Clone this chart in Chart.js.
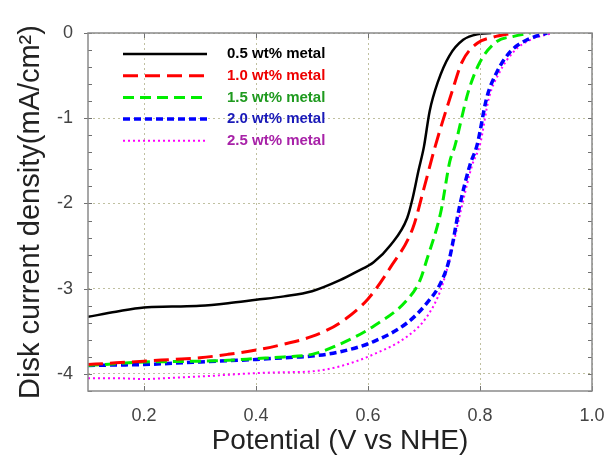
<!DOCTYPE html>
<html>
<head>
<meta charset="utf-8">
<script src="https://cdn.jsdelivr.net/npm/chart.js@4/dist/chart.umd.min.js"></script>
<style>
  html, body { margin:0; padding:0; background:#fff; }
  #wrap { width:608px; height:456px; position:relative; }
</style>
</head>
<body>
<div id="wrap"><canvas id="chart"></canvas></div>
<script>
// Series labels
const seriesNames = ['0.5 wt% metal','1.0 wt% metal','1.5 wt% metal','2.0 wt% metal','2.5 wt% metal'];

// Potential (V) / current density (mA/cm2)
const x05 = [0.10,0.15,0.20,0.25,0.30,0.35,0.40,0.45,0.50,0.55,0.58,0.61,0.64,0.67,0.68,0.69,0.70,0.71,0.725,0.745,0.77,0.80,0.82];
const y05 = [-3.33,-3.27,-3.22,-3.21,-3.20,-3.17,-3.13,-3.09,-3.03,-2.90,-2.80,-2.69,-2.49,-2.17,-1.93,-1.62,-1.33,-0.92,-0.57,-0.27,-0.08,-0.01,0];

const x10 = [0.10,0.15,0.20,0.25,0.30,0.35,0.40,0.45,0.50,0.55,0.60,0.64,0.68,0.70,0.72,0.75,0.768,0.795,0.823,0.86];
const y10 = [-3.89,-3.87,-3.85,-3.83,-3.81,-3.77,-3.72,-3.65,-3.56,-3.40,-3.12,-2.75,-2.29,-1.82,-1.33,-0.69,-0.34,-0.12,-0.05,0];

const x15 = [0.10,0.15,0.20,0.25,0.30,0.35,0.40,0.45,0.50,0.55,0.61,0.67,0.693,0.705,0.73,0.746,0.755,0.779,0.80,0.83,0.86,0.89];
const y15 = [-3.90,-3.88,-3.86,-3.855,-3.85,-3.84,-3.82,-3.80,-3.77,-3.65,-3.44,-3.13,-2.90,-2.66,-2.10,-1.51,-1.33,-0.69,-0.34,-0.10,-0.04,0];

const x20 = [0.10,0.15,0.20,0.25,0.30,0.35,0.40,0.45,0.50,0.55,0.61,0.67,0.705,0.73,0.745,0.764,0.782,0.795,0.812,0.83,0.854,0.884,0.92];
const y20 = [-3.90,-3.895,-3.89,-3.875,-3.86,-3.845,-3.83,-3.81,-3.79,-3.74,-3.62,-3.40,-3.17,-2.93,-2.66,-2.02,-1.55,-1.31,-0.76,-0.46,-0.22,-0.08,0];

const x25 = [0.10,0.15,0.20,0.25,0.30,0.35,0.40,0.45,0.50,0.55,0.61,0.67,0.705,0.73,0.748,0.768,0.786,0.80,0.816,0.835,0.86,0.89,0.93];
const y25 = [-4.05,-4.05,-4.06,-4.045,-4.03,-4.01,-3.99,-3.98,-3.97,-3.91,-3.77,-3.56,-3.33,-3.01,-2.60,-2.02,-1.55,-1.31,-0.76,-0.46,-0.22,-0.08,0];

// Axis ticks
const xTicks = [0.2,0.4,0.6,0.8,1.0];
const yTicks = [0,-1,-2,-3,-4];

const lineColors = ['#000000','#ff0000','#00ee00','#0000ff','#ff00ff'];
const textColors = ['#000000','#ee0000','#1f9a1f','#1a1ab8','#a822a8'];
const dashes = [[],[15,7],[11,6],[7,4],[2,3]];
const widths = [2.5,3,3,3.5,2];

const xs = [x05,x10,x15,x20,x25];
const ys = [y05,y10,y15,y20,y25];

const datasets = seriesNames.map((name,i)=>({
  label:name,
  data: xs[i].map((x,j)=>({x:x, y:ys[i][j]})),
  borderColor:lineColors[i],
  borderWidth:widths[i],
  borderDash:dashes[i],
  pointRadius:0,
  fill:false,
  cubicInterpolationMode:'monotone'
}));

// frame, inner ticks and legend
const framePlugin = {
  id:'frame',
  afterDatasetsDraw(chart){
    const {ctx, chartArea:a, scales} = chart;
    ctx.save();
    // minor ticks on y (every 0.2), inward both sides
    ctx.strokeStyle = '#707070';
    ctx.lineWidth = 1;
    ctx.beginPath();
    for(let k=0;k<=21;k++){
      const py = Math.round(scales.y.getPixelForValue(-k*0.2))+0.5;
      ctx.moveTo(a.left,py); ctx.lineTo(a.left+4,py);
      ctx.moveTo(a.right,py); ctx.lineTo(a.right-4,py);
    }
    yTicks.forEach(v=>{
      const py = Math.round(scales.y.getPixelForValue(v))+0.5;
      ctx.moveTo(a.left-4,py); ctx.lineTo(a.left,py);
    });
    xTicks.forEach(v=>{
      const px = Math.round(scales.x.getPixelForValue(v))+0.5;
      ctx.moveTo(px,a.bottom); ctx.lineTo(px,a.bottom-5);
      ctx.moveTo(px,a.top); ctx.lineTo(px,a.top+5);
    });
    ctx.stroke();
    ctx.strokeStyle = '#8a8a8a';
    ctx.lineWidth = 1.5;
    ctx.strokeRect(a.left, a.top, a.right-a.left, a.bottom-a.top);

    // legend
    ctx.font = 'bold 15px "Liberation Sans", Arial, sans-serif';
    ctx.textBaseline = 'middle';
    seriesNames.forEach((name,i)=>{
      const y = a.top + 21 + i*21.7;
      ctx.beginPath();
      ctx.strokeStyle = lineColors[i];
      ctx.lineWidth = widths[i];
      ctx.setLineDash(dashes[i]);
      ctx.moveTo(a.left+35, y); ctx.lineTo(a.left+119, y);
      ctx.stroke();
      ctx.setLineDash([]);
      ctx.fillStyle = textColors[i];
      ctx.fillText(name, a.left+139, y);
    });
    ctx.restore();
  }
};

new Chart(document.getElementById('chart'), {
  type:'line',
  data:{ datasets:datasets },
  options:{
    responsive:true,
    maintainAspectRatio:false,
    animation:false,
    layout:{ padding:{ top:33, right:16, left:0, bottom:0 } },
    plugins:{ legend:{ display:false }, tooltip:{ enabled:false } },
    scales:{
      x:{
        type:'linear',
        min:0.1, max:1.0,
        afterBuildTicks: s=>{ s.ticks = xTicks.map(v=>({value:v})); },
        afterFit: s=>{ s.height = 65; s.paddingLeft = 0; s.paddingRight = 0; },
        ticks:{ color:'#444', padding:14, maxRotation:0, font:{ size:18, family:'"Liberation Sans", Arial' }, callback:v=>Number(v).toFixed(1) },
        grid:{ color:'rgba(185,185,150,0.9)', lineWidth:1, drawTicks:false },
        border:{ display:false, dash:[2,3] },
        title:{ display:true, text:'Potential (V vs NHE)', color:'#222', padding:{top:0,bottom:0},
          font:{ size:28, family:'"Liberation Sans", Arial', lineHeight:1.05 } }
      },
      y:{
        min:-4.2, max:0,
        afterBuildTicks: s=>{ s.ticks = yTicks.map(v=>({value:v})); },
        afterFit: s=>{ s.width = 88; s.paddingTop = 0; s.paddingBottom = 0; },
        ticks:{ color:'#444', padding:15, font:{ size:18, family:'"Liberation Sans", Arial' } },
        grid:{ color:'rgba(185,185,150,0.9)', lineWidth:1, drawTicks:false },
        border:{ display:false, dash:[2,3] },
        title:{ display:true, text:'Disk current density(mA/cm\u00B2)', color:'#222', padding:{top:14,bottom:0},
          font:{ size:29, family:'"Liberation Sans", Arial', lineHeight:1.2 } }
      }
    }
  },
  plugins:[framePlugin]
});
</script>
</body>
</html>
